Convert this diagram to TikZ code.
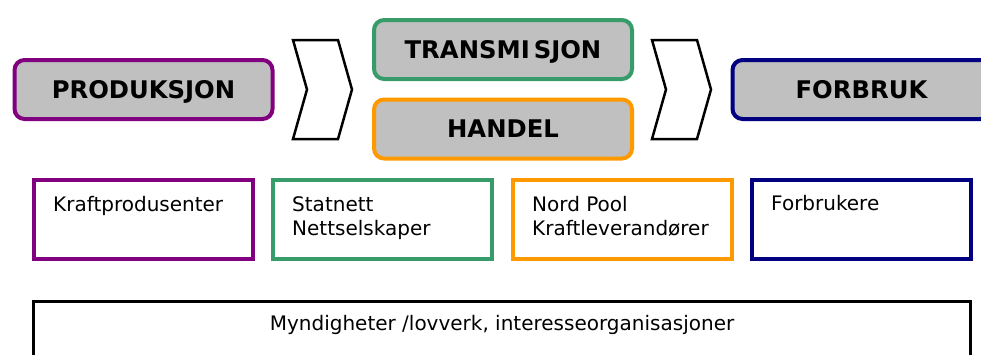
\documentclass[tikz,border=0pt]{standalone}
\usepackage{fontspec}
\setmainfont{DejaVu Sans}
\begin{document}
\begin{tikzpicture}[x=1pt,y=-1pt,
  hdr/.style={draw, line width=4pt, rounded corners=10pt, fill=boxgray,
    minimum width=258pt, minimum height=59pt, inner sep=0pt,
    font=\fontsize{24.3}{29}\selectfont\bfseries, text height=17.7pt, text depth=0pt},
  actor/.style={draw, line width=4pt, minimum width=219pt, minimum height=79pt, inner sep=0pt},
  body/.style={anchor=base west, inner sep=0pt, font=\fontsize{20}{24}\selectfont},
  chevron/.style={draw=black, line width=2.5pt, fill=white, line join=miter}]
\definecolor{boxgray}{RGB}{192,192,192}
\definecolor{prodpurple}{RGB}{128,0,128}
\definecolor{transgreen}{RGB}{56,156,106}
\definecolor{tradeorange}{RGB}{255,153,0}
\definecolor{usenavy}{RGB}{0,0,128}
\useasboundingbox (0,0) rectangle (981,354);
\clip (0,0) rectangle (981,354);

% value chain headers
\node[hdr, draw=prodpurple] (prod) at (143.5,89.5) {PRODUKSJON};
\node[hdr, draw=transgreen] (trans) at (503,49.5) {TRANSMI\hspace{4pt}SJON};
\node[hdr, draw=tradeorange] (trade) at (503,129) {HANDEL};
\node[hdr, draw=usenavy] (use) at (861.5,89.5) {FORBRUK};

% chevrons between the stages
\draw[chevron] (293,40) coordinate (c1a) -- (338,40) -- (352,89.5) coordinate (c1tip)
  -- (338,139) -- (293,139) -- (307,89.5) coordinate (c1notch) -- cycle;
\draw[chevron] (652,40) coordinate (c2a) -- (697,40) -- (711,89.5) coordinate (c2tip)
  -- (697,139) -- (652,139) -- (666,89.5) coordinate (c2notch) -- cycle;

% actors in each stage
\node[actor, draw=prodpurple] (kp) at (143.5,219.5) {};
\node[actor, draw=transgreen] (sn) at (382.5,219.5) {};
\node[actor, draw=tradeorange] (np) at (622,219.5) {};
\node[actor, draw=usenavy] (fb) at (861.5,219.5) {};

\node[body] (kptxt) at (53,211) {Kraftprodusenter};
\node[body] (sntxt1) at (292,211) {Statnett};
\node[body] (sntxt2) at (292,235) {Nettselskaper};
\node[body] (nptxt1) at (532,211) {Nord Pool};
\node[body] (nptxt2) at (532,235) {Kraftleverandører};
\node[body] (fbtxt) at (771,210) {Forbrukere};

% framework box along the bottom
\node[draw=black, line width=3.5pt, minimum width=937pt, minimum height=80pt, inner sep=0pt,
  anchor=north] (reg) at (502,299.5) {};
\node[body, anchor=base] (regtxt) at (502,330) {Myndigheter /lovverk, interesseorganisasjoner};
\end{tikzpicture}
\end{document}
